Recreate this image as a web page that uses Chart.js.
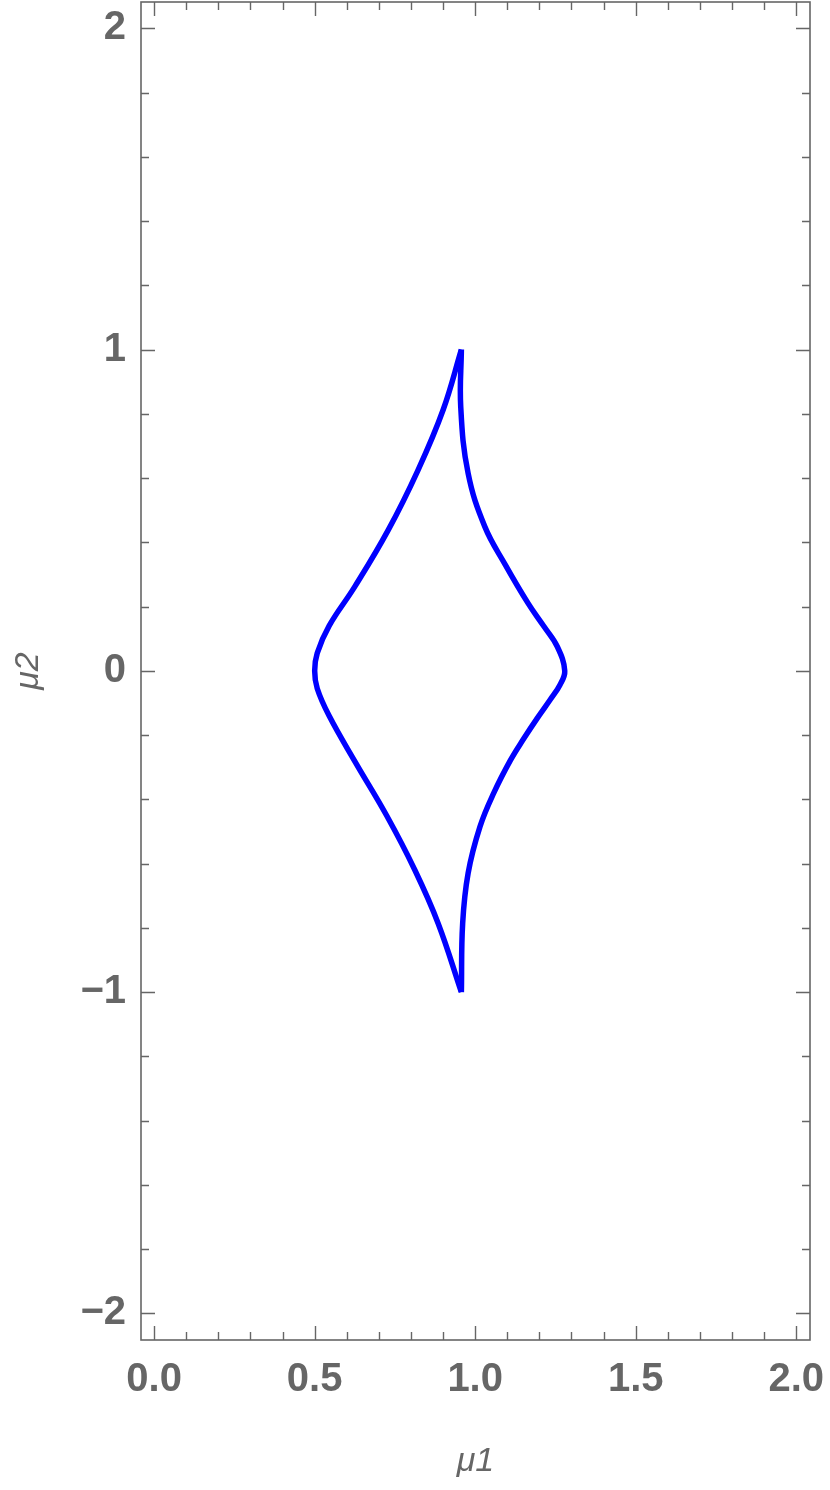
<!DOCTYPE html>
<html>
<head>
<meta charset="utf-8">
<script src="https://cdn.jsdelivr.net/npm/chart.js@4.4.1/dist/chart.umd.min.js"></script>
<style>
  html, body { margin: 0; padding: 0; background: #fff; }
  #wrap { width: 830px; height: 1490px; }
</style>
</head>
<body>
<div id="wrap"><canvas id="myChart" width="830" height="1490"></canvas></div>
<script>
(() => {
  'use strict'

  // Axis ticks
  const xMajor = [0, 0.5, 1, 1.5, 2]
  const xLabels = ['0.0', '0.5', '1.0', '1.5', '2.0']
  const xMinor = [0.1, 0.2, 0.3, 0.4, 0.6, 0.7, 0.8, 0.9, 1.1, 1.2, 1.3, 1.4, 1.6, 1.7, 1.8, 1.9]
  const yMajor = [-2, -1, 0, 1, 2]
  const yLabels = ['\u22122', '\u22121', '0', '1', '2']
  const yMinor = [-1.8, -1.6, -1.4, -1.2, -0.8, -0.6, -0.4, -0.2, 0.2, 0.4, 0.6, 0.8, 1.2, 1.4, 1.6, 1.8]

  // Curve, left branch (top cusp -> bottom cusp)
  const leftX = [0.957, 0.900, 0.822, 0.729, 0.625, 0.545, 0.508, 0.500,
    0.508, 0.545, 0.627, 0.725, 0.812, 0.885, 0.957]
  const leftY = [1.0, 0.812, 0.625, 0.438, 0.262, 0.140, 0.055, 0.0,
    -0.055, -0.140, -0.285, -0.452, -0.620, -0.787, -1.0]
  // Curve, right branch (top cusp -> bottom cusp)
  const rightX = [0.957, 0.955, 0.978, 1.030, 1.094, 1.165, 1.215, 1.256, 1.279,
    1.264, 1.233, 1.193, 1.152, 1.110, 1.058, 1.015, 0.978, 0.961, 0.957]
  const rightY = [1.0, 0.822, 0.615, 0.449, 0.330, 0.210, 0.137, 0.075, 0.0,
    -0.044, -0.091, -0.148, -0.210, -0.278, -0.380, -0.485, -0.630, -0.786, -1.0]

  const gray = '#666666'
  const tickFont = { family: 'Liberation Sans', size: 40, weight: 'bold' }
  const titleFont = { family: 'Liberation Sans', size: 34, style: 'italic' }

  const toPoints = (xs, ys) => xs.map((v, i) => ({ x: v, y: ys[i] }))

  // frame with inward ticks on all four sides
  const frame = {
    id: 'frame',
    afterDraw(chart) {
      const { ctx, chartArea: a, scales: { x, y } } = chart
      ctx.save()
      ctx.strokeStyle = gray
      ctx.lineWidth = 1.4
      ctx.beginPath()
      const xt = (vals, len) => vals.forEach(v => {
        const px = Math.round(x.getPixelForValue(v)) + 0.5
        ctx.moveTo(px, a.bottom); ctx.lineTo(px, a.bottom - len)
        ctx.moveTo(px, a.top); ctx.lineTo(px, a.top + len)
      })
      const yt = (vals, len) => vals.forEach(v => {
        const py = Math.round(y.getPixelForValue(v)) + 0.5
        ctx.moveTo(a.left, py); ctx.lineTo(a.left + len, py)
        ctx.moveTo(a.right, py); ctx.lineTo(a.right - len, py)
      })
      xt(xMajor, 14); xt(xMinor, 8)
      yt(yMajor, 14); yt(yMinor, 8)
      ctx.stroke()
      ctx.lineWidth = 1.6
      ctx.strokeRect(a.left, a.top, a.right - a.left, a.bottom - a.top)
      ctx.restore()
    }
  }

  const line = {
    showLine: true,
    borderColor: '#0000ff',
    backgroundColor: '#0000ff',
    borderWidth: 5.5,
    pointRadius: 0,
    tension: 0.4
  }

  const ctx = document.getElementById('myChart')
  // eslint-disable-next-line no-unused-vars
  const myChart = new Chart(ctx, {
    type: 'scatter',
    data: {
      datasets: [
        { ...line, data: toPoints(leftX, leftY) },
        { ...line, data: toPoints(rightX, rightY) }
      ]
    },
    options: {
      responsive: false,
      animation: false,
      layout: { padding: { top: 2, right: 20, left: 0, bottom: 0 } },
      scales: {
        x: {
          type: 'linear',
          min: -0.041,
          max: 2.043,
          afterBuildTicks: s => { s.ticks = xMajor.map(v => ({ value: v })) },
          afterFit: s => { s.height = 150; s.paddingLeft = 0; s.paddingRight = 0 },
          grid: { display: false, drawTicks: false },
          border: { display: false },
          ticks: {
            autoSkip: false,
            maxRotation: 0,
            padding: 16,
            color: gray,
            font: tickFont,
            callback: (v, i) => xLabels[i]
          },
          title: { display: true, text: 'μ1', color: gray, font: titleFont, padding: { bottom: 8 } }
        },
        y: {
          type: 'linear',
          min: -2.083,
          max: 2.082,
          afterBuildTicks: s => { s.ticks = yMajor.map(v => ({ value: v })) },
          afterFit: s => { s.width = 141; s.paddingTop = 0; s.paddingBottom = 0 },
          grid: { display: false, drawTicks: false },
          border: { display: false },
          ticks: {
            autoSkip: false,
            padding: 15,
            color: gray,
            font: tickFont,
            callback: (v, i) => yLabels[i]
          },
          title: { display: true, text: 'μ2', color: gray, font: titleFont, padding: { top: 8 } }
        }
      },
      plugins: {
        legend: { display: false },
        tooltip: { enabled: false }
      }
    },
    plugins: [frame]
  })
})()
</script>
</body>
</html>
